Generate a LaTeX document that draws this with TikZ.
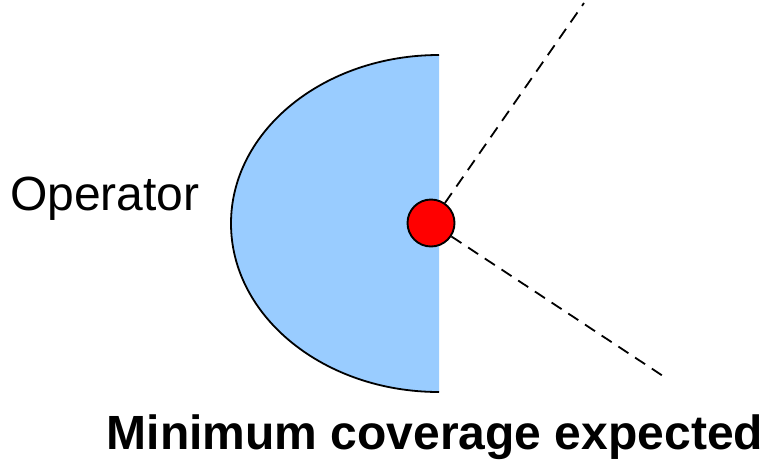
\documentclass[tikz,border=0pt]{standalone}
\usepackage{fontspec}
\setmainfont{Liberation Sans}
\definecolor{zoneblue}{RGB}{153,204,255}
\tikzset{
  zone/.style={fill=zoneblue},
  zoneedge/.style={draw=black, line width=1.8pt},
  sensor/.style={circle, fill=red, draw=black, line width=1.9pt, minimum size=47pt, inner sep=0pt},
  dashline/.style={draw=black, line width=1.8pt, dash pattern=on 12pt off 8pt},
  bigtext/.style={font=\fontsize{48}{56}\selectfont, inner sep=0pt},
  boldtext/.style={font=\fontsize{48}{56}\selectfont\bfseries, inner sep=0pt}
}
\begin{document}
\begin{tikzpicture}[x=1pt,y=-1pt]
\useasboundingbox (0,0) rectangle (765,459);
\fill[zone] (439,392) arc[start angle=90, end angle=270, x radius=208, y radius=168.5] -- cycle;
\draw[zoneedge] (439,392) arc[start angle=90, end angle=270, x radius=208, y radius=168.5];
\coordinate (ue) at (584,3);
\coordinate (le) at (663,376);
\node[sensor] (dot) at (431,223) {};
\draw[dashline] (dot) -- (ue);
\draw[dashline] (dot) -- (le);
\node[bigtext, anchor=base west] (op) at (10,210) {Operator};
\node[boldtext, anchor=base] (cap) at (435,449) {Minimum coverage expected};
\end{tikzpicture}
\end{document}
